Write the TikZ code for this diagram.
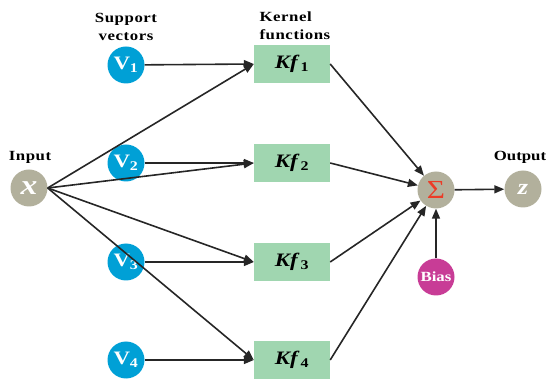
\documentclass[tikz,border=0pt]{standalone}
\usepackage{fontspec}
\setmainfont{Liberation Serif}[FakeStretch=1.2]
\usepackage{xcolor}
\usetikzlibrary{arrows.meta}
\definecolor{vblue}{RGB}{0,160,214}
\definecolor{khaki}{RGB}{178,176,156}
\definecolor{kgreen}{RGB}{160,214,176}
\definecolor{biasred}{RGB}{200,60,150}
\definecolor{sigred}{RGB}{235,60,40}

\begin{document}
\begin{tikzpicture}[x=1pt,y=-1pt,
  gnode/.style={circle,fill=khaki,minimum size=37pt,inner sep=0pt,text=white},
  vnode/.style={circle,fill=vblue,minimum size=37pt,inner sep=0pt,text=white,font=\bfseries\fontsize{19}{19}\selectfont},
  kbox/.style={rectangle,fill=kgreen,minimum width=76pt,minimum height=38pt,inner sep=0pt,font=\bfseries\fontsize{19}{19}\selectfont},
  head/.style={align=center,font=\bfseries\fontsize{14}{18}\selectfont\addfontfeatures{LetterSpace=4}},
  link/.style={-{Triangle[length=10pt,width=8pt]},line width=1.6pt,draw=black!85}]
\useasboundingbox (0,0) rectangle (549,379);
\node (x) at ( 29,188) [gnode,font=\bfseries\itshape\fontsize{28}{28}\selectfont] {x};
\node (v1) at (126, 65) [vnode] {V\textsubscript{1}};
\node (v2) at (126,163) [vnode] {V\textsubscript{2}};
\node (v3) at (126,262) [vnode] {V\textsubscript{3}};
\node (v4) at (126,360) [vnode] {V\textsubscript{4}};
\node (k1) at (292, 64) [kbox] {\textit{Kf}\kern1pt\textsubscript{1}};
\node (k2) at (292,163) [kbox] {\textit{Kf}\kern1pt\textsubscript{2}};
\node (k3) at (292,262) [kbox] {\textit{Kf}\kern1pt\textsubscript{3}};
\node (k4) at (292,360) [kbox] {\textit{Kf}\kern1pt\textsubscript{4}};
\node (sum) at (436,190) [gnode,font=\fontsize{26}{26}\selectfont] {\textcolor{sigred}{Σ}};
\node (z) at (523,189) [gnode,font=\bfseries\itshape\fontsize{22}{22}\selectfont] {z};
\node (bias) at (436,277) [gnode,fill=biasred,font=\bfseries\fontsize{14}{14}\selectfont] {Bias};
\node (sv) at (126, 27) [head] {Support\\vectors};
\node (kf) at (256, 26) [head,anchor=west,align=left] {Kernel\\functions};
\node (in) at ( 30,157) [head] {Input};
\node (out) at (520,157) [head,font=\bfseries\fontsize{14}{18}\selectfont] {Output};
\foreach \i in {1,...,4} {
  \draw[link] (x.east) -- (k\i.west);
  \draw[link] (v\i) -- (k\i.west);
  \draw[link] (k\i.east) -- (sum);
}
\draw[link] (bias) -- (sum);
\draw[link] (sum) -- (z);
\end{tikzpicture}
\end{document}
